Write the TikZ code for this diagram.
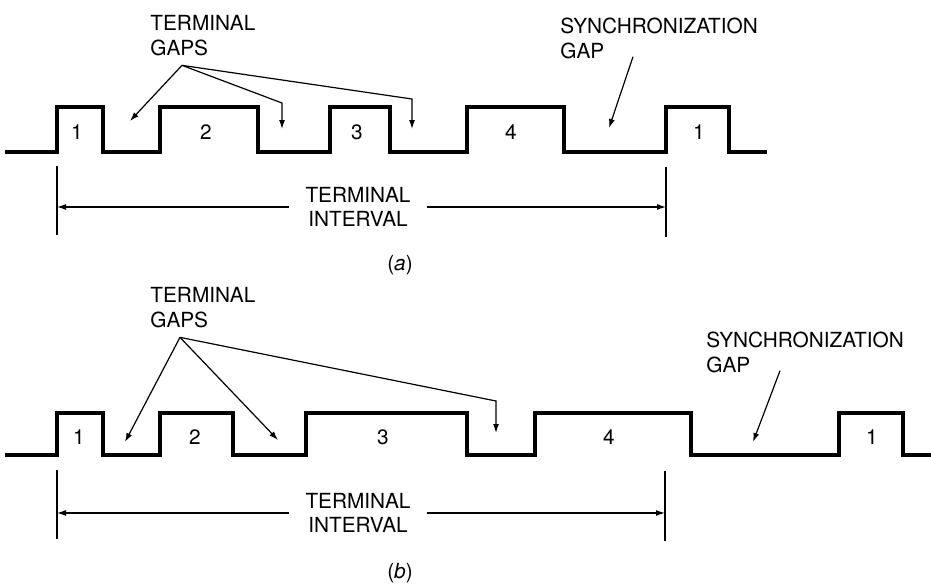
\documentclass[tikz,border=0pt]{standalone}
\usepackage{fontspec}
\setmainfont{TeX Gyre Heros}
\usepackage{tikz}
\usetikzlibrary{positioning,arrows.meta}

\begin{document}
\begin{tikzpicture}[
    x=0.5pt, y=-0.5pt,
    wave/.style={
        line width=1.7pt,
        draw=black,
        line join=miter
    },
    arrow/.style={
        -{Latex[length=4.5pt,width=3pt]},
        line width=0.6pt,
        draw=black
    },
    tick/.style={
        line width=0.6pt,
        draw=black
    },
    lbl/.style={
        inner sep=0pt,
        align=left,
        font=\fontsize{10.4}{12.5}\selectfont
    },
    num/.style={
        inner sep=0pt,
        font=\fontsize{10.4}{12.5}\selectfont
    },
    interval/.style={
        inner xsep=8pt,
        inner ysep=0pt,
        align=center,
        font=\fontsize{10.4}{12}\selectfont
    }
]
\useasboundingbox (0,0) rectangle (931,585);

% Frame (a): Waveform
\draw[wave] (5,152) -| (57,107) -| (103,152) -| (160,107) -| (258,152) -| (330,107)
    -| (390,152) -| (467,107) -| (564,152) -| (666,107) -| (729,152) -- (767,152);

\node[num] (a1) at (77,132) {1};
\node[num] (a2) at (206,132) {2};
\node[num] (a3) at (357,132) {3};
\node[num] (a4) at (511,132) {4};
\node[num] (a5) at (699,132) {1};

% Frame (a): Gap Labels
\node[lbl, anchor=north west] (gapsA) at (150,15) {TERMINAL\\GAPS};
\node[lbl, anchor=north west] (syncA) at (560,18) {SYNCHRONIZATION\\GAP};

\coordinate (gfA) at ([shift={(32,9)}]gapsA.south west);
\coordinate (gtA1) at (130,121);
\coordinate (gtA2) at (282,129);
\coordinate (gtA3) at (412,129);
\draw[arrow] (gfA) -- (gtA1);
\draw[arrow] (gfA) -- ([yshift=13pt]gtA2) -- (gtA2);
\draw[arrow] (gfA) -- ([yshift=15pt]gtA3) -- (gtA3);

\coordinate (sfA) at ([shift={(73,-3)}]syncA.south west);
\coordinate (stA) at (609,128);
\draw[arrow] (sfA) -- (stA);

% Frame (a): Terminal Interval
\coordinate (iaL1) at (57,166);
\coordinate (iaL2) at (57,235);
\coordinate (iaR1) at (666,167);
\coordinate (iaR2) at (666,237);
\draw[tick] (iaL1) -- (iaL2);
\draw[tick] (iaR1) -- (iaR2);
\node[interval, anchor=north] (intA) at (358,187) {TERMINAL\\INTERVAL};
\draw[arrow] (intA.west) -- (intA.west -| iaL1);
\draw[arrow] (intA.east) -- (intA.east -| iaR1);

\node[num] (capA) at (400,265) {(\textit{a})};

% Frame (b): Waveform
\draw[wave] (5,455) -| (57,413) -| (103,455) -| (160,413) -| (233,455) -| (306,413)
    -| (467,455) -| (535,413) -| (691,455) -| (839,413) -| (903,455) -- (931,455);

\node[num] (b1) at (79,437) {1};
\node[num] (b2) at (195,437) {2};
\node[num] (b3) at (383,437) {3};
\node[num] (b4) at (609,437) {4};
\node[num] (b5) at (872,437) {1};

% Frame (b): Gap Labels
\node[lbl, anchor=north west] (gapsB) at (150,287) {TERMINAL\\GAPS};
\node[lbl, anchor=north west] (syncB) at (706,332) {SYNCHRONIZATION\\GAP};

\coordinate (gfB) at ([shift={(30,9)}]gapsB.south west);
\coordinate (gtB1) at (125,442);
\coordinate (gtB2) at (278,440);
\coordinate (gtB3) at (496,433);
\draw[arrow] (gfB) -- (gtB1);
\draw[arrow] (gfB) -- (gtB2);
\draw[arrow] (gfB) -- ([yshift=16pt]gtB3) -- (gtB3);

\coordinate (sfB) at ([shift={(74,-3)}]syncB.south west);
\coordinate (stB) at (753,442);
\draw[arrow] (sfB) -- (stB);

% Frame (b): Terminal Interval
\coordinate (ibL1) at (57,470);
\coordinate (ibL2) at (57,539);
\coordinate (ibR1) at (665,471);
\coordinate (ibR2) at (665,541);
\draw[tick] (ibL1) -- (ibL2);
\draw[tick] (ibR1) -- (ibR2);
\node[interval, anchor=north] (intB) at (358,493) {TERMINAL\\INTERVAL};
\draw[arrow] (intB.west) -- (intB.west -| ibL1);
\draw[arrow] (intB.east) -- (intB.east -| ibR1);

\node[num] (capB) at (400,573) {(\textit{b})};

\end{tikzpicture}
\end{document}
